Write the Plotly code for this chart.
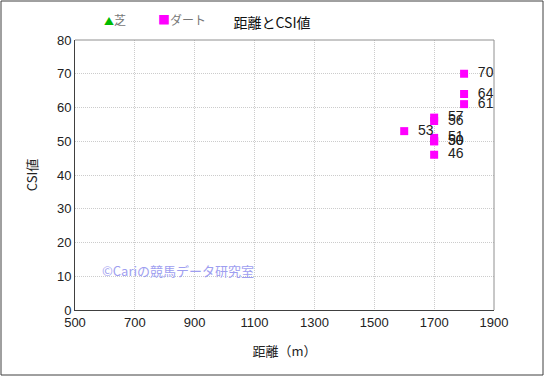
import plotly.graph_objects as go

# Data
turf_dist = []
turf_csi = []
dirt_dist = [1800, 1800, 1800, 1700, 1700, 1600, 1700, 1700, 1700, 1700]
dirt_csi = [70, 64, 61, 57, 56, 53, 51, 50, 50, 46]
x_ticks = [500, 700, 900, 1100, 1300, 1500, 1700, 1900]
y_ticks = [0, 10, 20, 30, 40, 50, 60, 70, 80]

FONT = "Liberation Sans, Noto Sans CJK JP"
JFONT = "Noto Sans CJK JP"
W, H = 545, 377
L, R, T, B = 75, 51, 40, 67
pw, ph = W - L - R, H - T - B

def px(x):
    return (x - L) / pw

def py(y):
    return (H - B - y) / ph

fig = go.Figure()
fig.add_trace(go.Scatter(
    x=turf_dist, y=turf_csi,
    mode="markers", name="芝",
    marker=dict(symbol="triangle-up", size=9, color="#00cc00",
                line=dict(color="#006600", width=1)),
))
fig.add_trace(go.Scatter(
    x=dirt_dist, y=dirt_csi, mode="markers+text", name="ダート",
    text=["  " + str(v) for v in dirt_csi], textposition="middle right",
    textfont=dict(family=FONT, size=14, color="#222222"),
    marker=dict(symbol="square", size=8, color="#ff00ff"),
    cliponaxis=False,
))

grid = dict(showgrid=True, gridcolor="#cccccc", griddash="1px,1px", gridwidth=1,
            zeroline=False, ticks="", linecolor="#404040", linewidth=1,
            showline=True, mirror=False, automargin=False,
            tickfont=dict(family=FONT, size=13, color="#222222"))

fig.update_xaxes(range=[500, 1900], tickvals=x_ticks, **grid,
                 title=dict(text="距離（m）", font=dict(family=JFONT, size=13, color="#222222"), standoff=18))
fig.update_yaxes(range=[0, 80], tickvals=y_ticks, **grid,
                 title=dict(text="CSI値", font=dict(family=JFONT, size=13, color="#222222"), standoff=16))

shapes = [
    dict(type="line", xref="paper", yref="paper", x0=0, x1=1, y0=1, y1=1,
         line=dict(color="#909090", width=1)),
    dict(type="line", xref="paper", yref="paper", x0=1, x1=1, y0=0, y1=1,
         line=dict(color="#909090", width=1)),
    dict(type="rect", xref="paper", yref="paper",
         x0=px(1), x1=px(W - 2), y0=py(H - 2), y1=py(1),
         line=dict(color="#404040", width=1)),
]

ann = [
    dict(text="©Cariの競馬データ研究室", x=px(100), y=py(270), xanchor="left", size=13),
    dict(text="<span style='color:#00bb00;font-size:10px'>▲</span>芝", x=px(102), y=py(19), xanchor="left", size=12),
    dict(text="<span style='color:#ff00ff'>■</span>ダート", x=px(156), y=py(19), xanchor="left", size=12),
]
colors = ["#9e9ef0", "#777777", "#777777"]
annotations = []
for a, c in zip(ann, colors):
    s = a.pop("size")
    a.update(xref="paper", yref="paper", yanchor="middle", showarrow=False,
             font=dict(family=JFONT, size=s, color=c))
    annotations.append(a)

fig.update_layout(
    width=W, height=H,
    margin=dict(l=L, r=R, t=T, b=B, autoexpand=False),
    plot_bgcolor="white", paper_bgcolor="white",
    font=dict(family=FONT, size=12, color="#222222"),
    title=dict(text="距離とCSI値", x=272 / W, xanchor="center", y=1 - 23 / H, yanchor="middle",
               font=dict(family=JFONT, size=14, color="#111111")),
    showlegend=False,
    shapes=shapes,
    annotations=annotations,
)

fig.write_html("out.html", config={"displayModeBar": False},
               post_script="document.body.style.margin='0';document.body.style.overflow='hidden';")
